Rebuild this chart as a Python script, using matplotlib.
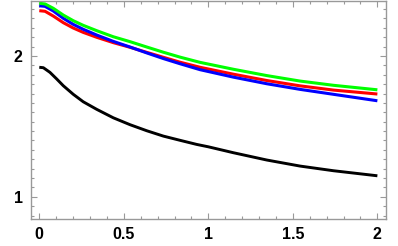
import numpy as np
import matplotlib.pyplot as plt
from matplotlib.ticker import MultipleLocator

# valores
x_preto = [0.0, 0.024, 0.063, 0.103, 0.142, 0.201, 0.26, 0.34, 0.438, 0.537, 0.636, 0.734, 0.833, 0.931,
           1.0, 1.148, 1.346, 1.543, 1.74, 2.0]
y_preto = [1.920, 1.917, 1.884, 1.837, 1.789, 1.728, 1.675, 1.621, 1.561, 1.512, 1.469, 1.431, 1.401, 1.372,
           1.355, 1.313, 1.261, 1.218, 1.185, 1.149]

x_cor = [0.0, 0.034, 0.083, 0.142, 0.201, 0.26, 0.34, 0.438, 0.537, 0.636, 0.734, 0.833,
         0.951, 1.148, 1.346, 1.543, 1.74, 2.0]
y_verde = [2.375, 2.37, 2.339, 2.291, 2.251, 2.218, 2.18, 2.137, 2.102, 2.064, 2.027, 1.992,
           1.955, 1.906, 1.861, 1.822, 1.792, 1.76]
y_azul = [2.357, 2.353, 2.32, 2.268, 2.225, 2.19, 2.149, 2.104, 2.064, 2.022, 1.982, 1.945,
          1.903, 1.85, 1.803, 1.763, 1.728, 1.682]
y_vermelho = [2.322, 2.318, 2.284, 2.237, 2.199, 2.168, 2.133, 2.095, 2.062, 2.026, 1.991, 1.956,
              1.92, 1.871, 1.826, 1.788, 1.758, 1.73]

plt.rcParams['font.family'] = ['Liberation Sans', 'DejaVu Sans']

fig = plt.figure(figsize=(3.98, 2.46), dpi=100)
ax = fig.add_axes([31/398, 1 - 219/246, (386 - 31)/398, (219 - 1)/246])

ax.plot(x_preto, y_preto, color='black', lw=2.1, solid_capstyle='butt', solid_joinstyle='round')
ax.plot(x_cor, y_vermelho, color='#ff0000', lw=2.2, solid_capstyle='butt', solid_joinstyle='round')
ax.plot(x_cor, y_azul, color='#0000ff', lw=2.2, solid_capstyle='butt', solid_joinstyle='round')
ax.plot(x_cor, y_verde, color='#00ff00', lw=2.2, solid_capstyle='butt', solid_joinstyle='round')

ax.set_xlim(-0.049, 2.051)
ax.set_ylim(0.842, 2.391)

ax.set_xticks([0, 0.5, 1, 1.5, 2])
ax.set_xticklabels(['0', '0.5', '1', '1.5', '2'])
ax.xaxis.set_minor_locator(MultipleLocator(0.1))
ax.set_yticks([1, 2])
ax.set_yticklabels(['1', '2'])
ax.yaxis.set_minor_locator(MultipleLocator(1/15))

ax.tick_params(which='both', direction='in', top=True, right=True, color='#999999', width=0.8)
ax.tick_params(which='major', length=4, labelsize=11.5, pad=6)
ax.tick_params(which='minor', length=2)
for lab in ax.get_xticklabels() + ax.get_yticklabels():
    lab.set_fontweight('bold')

for s in ax.spines.values():
    s.set_color('#999999')
    s.set_linewidth(1)

fig.savefig('out.png', dpi=100)
